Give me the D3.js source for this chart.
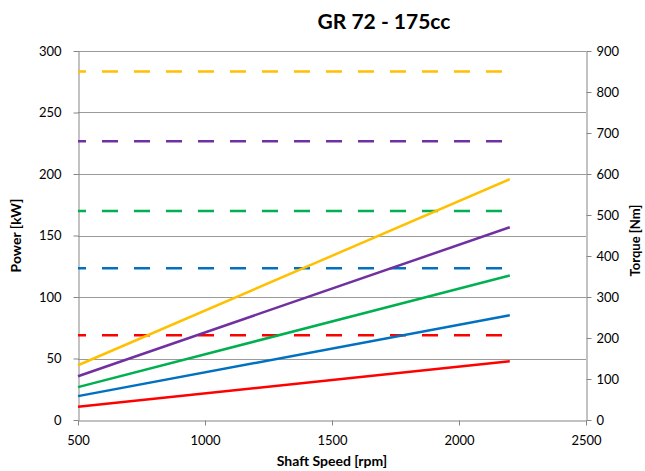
<!DOCTYPE html>
<html>
<head>
<meta charset="utf-8">
<script src="https://cdn.jsdelivr.net/npm/d3@7"></script>
<style>
  html, body { margin: 0; padding: 0; background: #fff; }
  svg { display: block; }
  text { font-family: Lato, "Open Sans", sans-serif; fill: #000; }
</style>
</head>
<body>
<svg id="chart" width="645" height="471"></svg>
<script>
// ---- Data ----
const title = "GR 72 - 175cc";
const seriesNames = ["S1", "S2", "S3", "S4", "S5"];
const seriesColors = ["#FF0000", "#0070C0", "#00B050", "#7030A0", "#FFC000"];
const speedPoints = [500, 2200];              // rpm
const powerS1 = [10.8, 47.7];                 // kW
const powerS2 = [19.4, 85.2];
const powerS3 = [26.7, 117.5];
const powerS4 = [35.6, 156.7];
const powerS5 = [44.5, 195.8];
const torqueS1 = [207, 207];                  // Nm
const torqueS2 = [370, 370];
const torqueS3 = [510, 510];
const torqueS4 = [680, 680];
const torqueS5 = [850, 850];
const xTicks = [500, 1000, 1500, 2000, 2500];
const powerTicks = [0, 50, 100, 150, 200, 250, 300];
const torqueTicks = [0, 100, 200, 300, 400, 500, 600, 700, 800, 900];

const powers = [powerS1, powerS2, powerS3, powerS4, powerS5];
const torques = [torqueS1, torqueS2, torqueS3, torqueS4, torqueS5];

// ---- Layout ----
const svg = d3.select("#chart");
const mLeft = 78, mRight = 586, mTop = 51, mBottom = 420;

const x = d3.scaleLinear().domain([500, 2500]).range([mLeft, mRight]);
const yP = d3.scaleLinear().domain([0, 300]).range([mBottom, mTop]);
const yT = d3.scaleLinear().domain([0, 900]).range([mBottom, mTop]);

// gridlines
svg.append("g").selectAll("line").data(powerTicks.filter(d => d > 0)).join("line")
  .attr("x1", mLeft).attr("x2", mRight)
  .attr("y1", d => Math.round(yP(d)) + 0.5).attr("y2", d => Math.round(yP(d)) + 0.5)
  .attr("stroke", "#9a9a9a").attr("stroke-width", 1);

// axes
const axisColor = "#868686";
function styleAxis(g) {
  g.select(".domain").attr("stroke", axisColor);
  g.selectAll(".tick line").attr("stroke", axisColor);
  g.selectAll(".tick text").style("font-family", "Lato, 'Open Sans', sans-serif")
    .style("font-size", "13px").attr("fill", "#1a1a1a");
}
svg.append("g").attr("transform", `translate(${mLeft + 0.5},0)`)
  .call(d3.axisLeft(yP).tickValues(powerTicks).tickSize(5).tickSizeOuter(0).tickPadding(12))
  .call(styleAxis);
svg.append("g").attr("transform", `translate(${mRight + 0.5},0)`)
  .call(d3.axisRight(yT).tickValues(torqueTicks).tickSize(5).tickSizeOuter(0).tickPadding(5))
  .call(styleAxis);
svg.append("g").attr("transform", `translate(0,${mBottom + 0.5})`)
  .call(d3.axisBottom(x).tickValues(xTicks).tickFormat(d3.format("d")).tickSize(5).tickSizeOuter(0).tickPadding(10))
  .call(styleAxis);

// lines
const lineT = d3.line().x((d, i) => x(speedPoints[i])).y(d => yT(d));
const lineP = d3.line().x((d, i) => x(speedPoints[i])).y(d => yP(d));

torques.forEach((t, i) => {
  svg.append("path").datum(t).attr("d", lineT)
    .attr("fill", "none").attr("stroke", seriesColors[i]).attr("stroke-width", 2.5)
    .attr("stroke-dasharray", "16,16").attr("stroke-dashoffset", 8);
});
powers.forEach((p, i) => {
  svg.append("path").datum(p).attr("d", lineP)
    .attr("fill", "none").attr("stroke", seriesColors[i]).attr("stroke-width", 2.5);
});

// titles
svg.append("text").attr("x", 384).attr("y", 29).attr("text-anchor", "middle")
  .style("font-size", "21px").style("font-weight", "bold").text(title);
svg.append("text").attr("x", (mLeft + mRight) / 2).attr("y", 466).attr("text-anchor", "middle")
  .style("font-size", "14px").style("font-weight", "bold").text("Shaft Speed [rpm]");
svg.append("text").attr("transform", `translate(21,${(mTop + mBottom) / 2}) rotate(-90)`)
  .attr("text-anchor", "middle").style("font-size", "14px").style("font-weight", "bold").text("Power [kW]");
svg.append("text").attr("transform", `translate(640,${(mTop + mBottom) / 2 + 5}) rotate(-90)`)
  .attr("text-anchor", "middle").style("font-size", "13px").style("font-weight", "bold").text("Torque [Nm]");
</script>
</body>
</html>
